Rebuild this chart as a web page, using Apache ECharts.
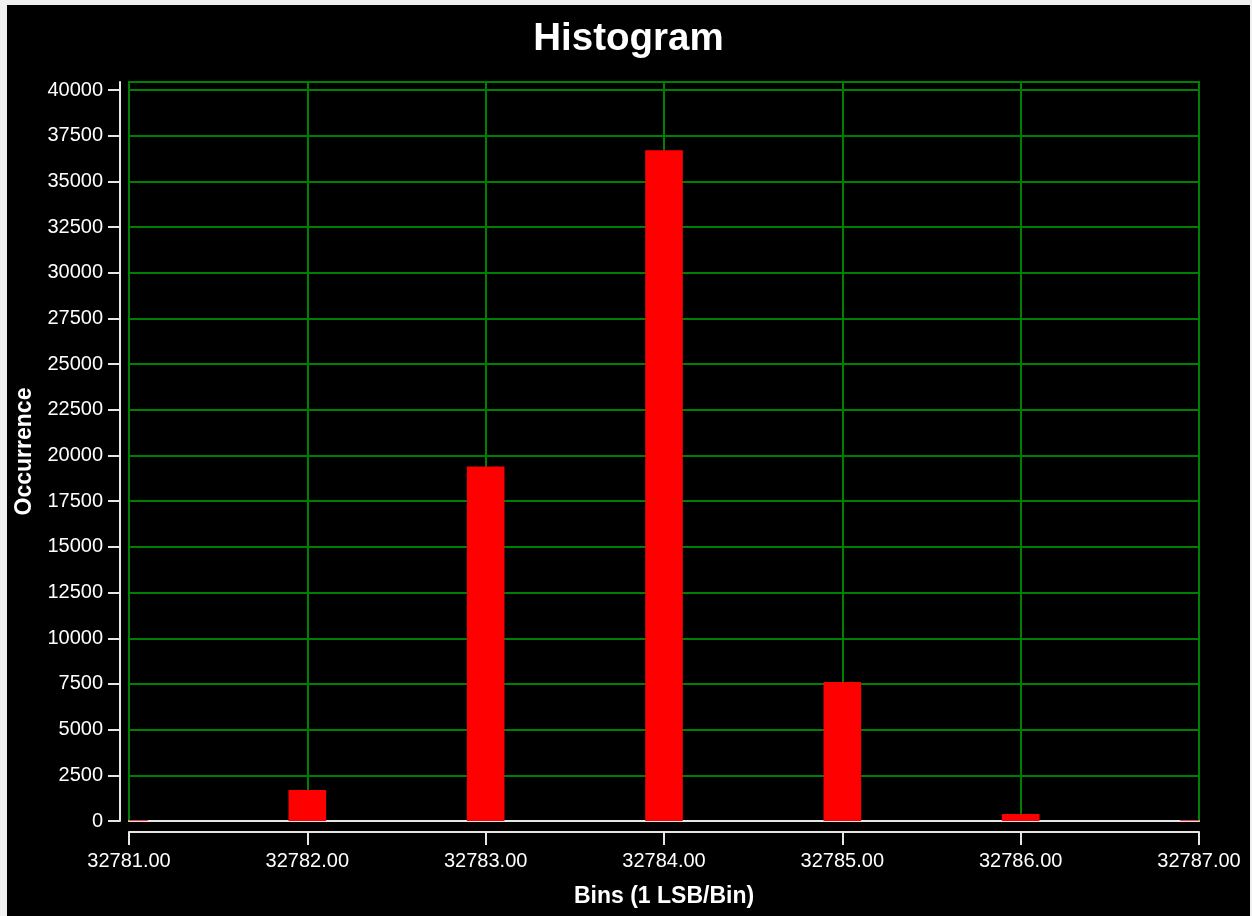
<!DOCTYPE html>
<html>
<head>
<meta charset="utf-8">
<script src="https://cdn.jsdelivr.net/npm/echarts@6/dist/echarts.min.js"></script>
<style>
  html, body { margin: 0; padding: 0; background: #f0f0f0; width: 1252px; height: 916px; overflow: hidden; }
  #chart { position: absolute; left: 7px; top: 5px; width: 1243px; height: 911px; background: #000; }
</style>
</head>
<body>
<div id="chart"></div>
<script>
// ---- data ----
const bins = [32781, 32782, 32783, 32784, 32785, 32786, 32787];
const occurrences = [40, 1700, 19400, 36700, 7600, 380, 40];
const yTicks = [0, 2500, 5000, 7500, 10000, 12500, 15000, 17500, 20000, 22500, 25000, 27500, 30000, 32500, 35000, 37500, 40000];
const xTicks = [32781, 32782, 32783, 32784, 32785, 32786, 32787];
const titleText = 'Histogram';
const xName = 'Bins (1 LSB/Bin)';
const yName = 'Occurrence';

const FONT = '"Liberation Sans", Arial, sans-serif';
const GREEN = '#008000';
const AXIS = '#e6e6e6';
const BAR_FRACTION = 0.211; // bar width as a fraction of one bin

const chart = echarts.init(document.getElementById('chart'), null, { renderer: 'canvas' });
chart.setOption({
  backgroundColor: '#000000',
  animation: false,
  title: {
    text: titleText,
    left: 'center',
    top: 10,
    textStyle: { color: '#ffffff', fontFamily: FONT, fontWeight: 'bold', fontSize: 38.5 }
  },
  grid: {
    left: 122, right: 51, top: 77, bottom: 95,
    containLabel: false, outerBoundsMode: 'none',
    show: true, borderColor: GREEN, borderWidth: 2, backgroundColor: 'transparent'
  },
  xAxis: [
    {
      type: 'value',
      min: xTicks[0], max: xTicks[xTicks.length - 1], interval: 1,
      position: 'bottom', offset: 11,
      name: xName, nameLocation: 'middle', nameGap: 53,
      nameTextStyle: { color: '#ffffff', fontFamily: FONT, fontWeight: 'bold', fontSize: 23 },
      axisLine: { show: true, onZero: false, lineStyle: { color: AXIS, width: 2 } },
      axisTick: { show: true, inside: false, length: 13, lineStyle: { color: AXIS, width: 2 } },
      axisLabel: {
        color: '#ffffff', fontFamily: FONT, fontSize: 20, margin: 19,
        showMinLabel: true, showMaxLabel: true, hideOverlap: false,
        formatter: v => v.toFixed(2)
      },
      splitLine: { show: true, lineStyle: { color: GREEN, width: 2 } }
    },
    {
      type: 'value',
      min: xTicks[0], max: xTicks[xTicks.length - 1], interval: 1,
      position: 'bottom', offset: 0,
      axisLine: { show: true, onZero: false, lineStyle: { color: AXIS, width: 2 } },
      axisTick: { show: false }, axisLabel: { show: false }, splitLine: { show: false }
    }
  ],
  yAxis: {
    type: 'value',
    min: 0, max: 40440, interval: 2500,
    position: 'left', offset: 9,
    name: yName, nameLocation: 'middle', nameGap: 83, nameRotate: 90,
    nameTextStyle: { color: '#ffffff', fontFamily: FONT, fontWeight: 'bold', fontSize: 23 },
    axisLine: { show: true, lineStyle: { color: AXIS, width: 2 } },
    axisTick: { show: true, inside: false, length: 12, customValues: yTicks, lineStyle: { color: AXIS, width: 2 } },
    axisLabel: {
      color: '#ffffff', fontFamily: FONT, fontSize: 20, margin: 17, customValues: yTicks,
      hideOverlap: false, formatter: v => String(v)
    },
    splitLine: { show: true, lineStyle: { color: GREEN, width: 2 } }
  },
  series: [{
    type: 'custom',
    xAxisIndex: 0,
    clip: true,
    data: bins.map((b, i) => [b, occurrences[i]]),
    encode: { x: 0, y: 1 },
    renderItem: function (params, api) {
      const x = api.value(0), y = api.value(1);
      const base = api.coord([x, 0]);
      const top = api.coord([x, y]);
      const w = api.size([1, 0])[0] * BAR_FRACTION;
      const rect = echarts.graphic.clipRectByRect(
        { x: base[0] - w / 2, y: top[1], width: w, height: base[1] - top[1] },
        { x: params.coordSys.x, y: params.coordSys.y, width: params.coordSys.width, height: params.coordSys.height }
      );
      if (!rect) return null;
      return { type: 'rect', shape: rect, style: { fill: '#ff0000' } };
    }
  }]
});
</script>
</body>
</html>
